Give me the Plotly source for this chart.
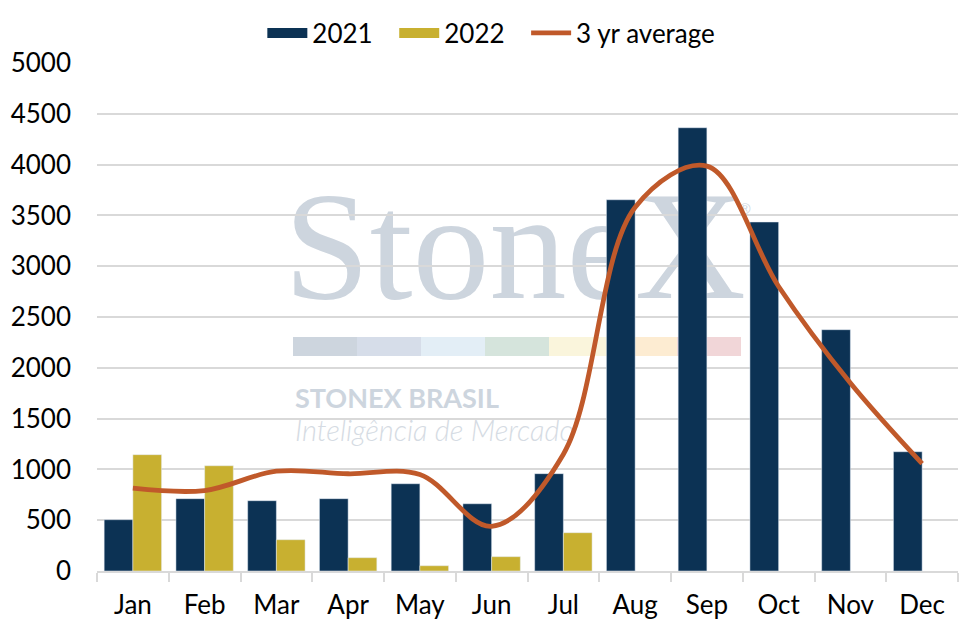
import plotly.graph_objects as go

# Data
months = ['Jan', 'Feb', 'Mar', 'Apr', 'May', 'Jun', 'Jul', 'Aug', 'Sep', 'Oct', 'Nov', 'Dec']
vals_2021 = [505, 712, 692, 712, 859, 662, 958, 3654, 4363, 3435, 2375, 1174]
vals_2022 = [1145, 1036, 308, 131, 52, 141, 377, None, None, None, None, None]
avg_3yr = [815, 792, 982, 957, 950, 440, 1150, 3580, 3985, 2800, 1850, 1056]
y_ticks = list(range(0, 5001, 500))


def main():
    fig = build_figure()
    fig.write_html("out.html")


def build_figure():
    colors = {
        '2021': '#0c3254',
        '2022': '#c8b030',
        'avg': '#c0592a',
        'grid': '#d9d9d9',
        'text': '#000000',
        'mark': '#cdd5de',
    }
    font_main = "Lato"
    gap = '\u00a0\u00a0\u2009'  # extra room between legend entries

    fig = go.Figure()

    fig.add_trace(go.Bar(x=months, y=vals_2021, name='2021', marker_color=colors['2021'],
                         legendgroup='2021', showlegend=False))
    fig.add_trace(go.Bar(x=months, y=vals_2022, name='2022', marker_color=colors['2022'],
                         legendgroup='2022', showlegend=False))
    fig.add_trace(go.Scatter(
        x=months, y=avg_3yr, name='3 yr average', mode='lines',
        line=dict(color=colors['avg'], width=4.8, shape='spline', smoothing=1),
        legendrank=3,
    ))
    # legend-only entries so the bar swatches look like wide blocks
    fig.add_trace(go.Scatter(x=[None], y=[None], name='2021' + gap, mode='lines', legendgroup='2021',
                             line=dict(color=colors['2021'], width=14), legendrank=1))
    fig.add_trace(go.Scatter(x=[None], y=[None], name='2022' + gap, mode='lines', legendgroup='2022',
                             line=dict(color=colors['2022'], width=14), legendrank=2))

    # watermark (drawn below gridlines), positioned by pixel on the page
    px_x = lambda p: (p - 97) / 861
    px_y = lambda p: (571 - p) / 508

    fig.add_shape(type='rect', xref='paper', yref='paper', layer='below',
                  x0=px_x(280), x1=px_x(750), y0=px_y(300), y1=px_y(158),
                  line=dict(width=0), fillcolor='rgba(0,0,0,0)',
                  label=dict(text='StoneX', textposition='middle center',
                             font=dict(family='Liberation Serif', size=154, color=colors['mark'])))
    fig.add_shape(type='rect', xref='paper', yref='paper', layer='below',
                  x0=px_x(734), x1=px_x(756), y0=px_y(218), y1=px_y(196),
                  line=dict(width=0), fillcolor='rgba(0,0,0,0)',
                  label=dict(text='®', textposition='middle center',
                             font=dict(family='Liberation Sans', size=15, color=colors['mark'])))

    strip = ['#cdd5de', '#d6dde9', '#e3eef6', '#d5e4dc', '#faf5dc', '#fdecd2', '#f1d6d8']
    for i, c in enumerate(strip):
        fig.add_shape(type='rect', xref='paper', yref='paper', layer='below',
                      x0=px_x(293 + 64 * i), x1=px_x(293 + 64 * (i + 1)),
                      y0=px_y(356), y1=px_y(337), line=dict(width=0), fillcolor=c)

    fig.add_shape(type='rect', xref='paper', yref='paper', layer='below',
                  x0=px_x(292), x1=px_x(700), y0=px_y(411), y1=px_y(383),
                  line=dict(width=0), fillcolor='rgba(0,0,0,0)',
                  label=dict(text='STONEX BRASIL', textposition='middle left', padding=0,
                             font=dict(family='Lato', size=27, weight='bold', color=colors['mark'])))
    fig.add_shape(type='rect', xref='paper', yref='paper', layer='below',
                  x0=px_x(292), x1=px_x(700), y0=px_y(444), y1=px_y(414),
                  line=dict(width=0), fillcolor='rgba(0,0,0,0)',
                  label=dict(text='Inteligência de Mercado', textposition='middle left', padding=0,
                             font=dict(family='Lato', size=29, style='italic', weight=300,
                                       color='#d5dbe3')))

    # the page body adds an 8px offset, so the figure is 8px smaller than the window
    fig.update_layout(
        width=967, height=625,
        margin=dict(l=89, r=17, t=55, b=62, autoexpand=False),
        paper_bgcolor='white', plot_bgcolor='white',
        barmode='group', bargap=0.2, bargroupgap=0,
        font=dict(family=font_main, size=26, color=colors['text']),
        showlegend=True,
        legend=dict(
            orientation='h', xanchor='center', x=0.458,
            yref='container', yanchor='middle', y=0.96,
            font=dict(family=font_main, size=26, color=colors['text']),
            itemwidth=40, tracegroupgap=0, traceorder='normal',
        ),
        xaxis=dict(
            automargin=False,
            showgrid=False, showline=True, linecolor=colors['grid'], linewidth=2,
            ticks='outside', tickson='boundaries', ticklen=9, tickcolor=colors['grid'], tickwidth=2,
            tickfont=dict(family=font_main, size=26), ticklabelstandoff=10,
        ),
        yaxis=dict(
            automargin=False,
            range=[0, 5000], tickvals=y_ticks,
            showgrid=True, gridcolor=colors['grid'], gridwidth=2,
            showline=False, zeroline=False, ticks='',
            tickfont=dict(family=font_main, size=26), ticklabelstandoff=25,
        ),
    )
    return fig


if __name__ == "__main__":
    main()
